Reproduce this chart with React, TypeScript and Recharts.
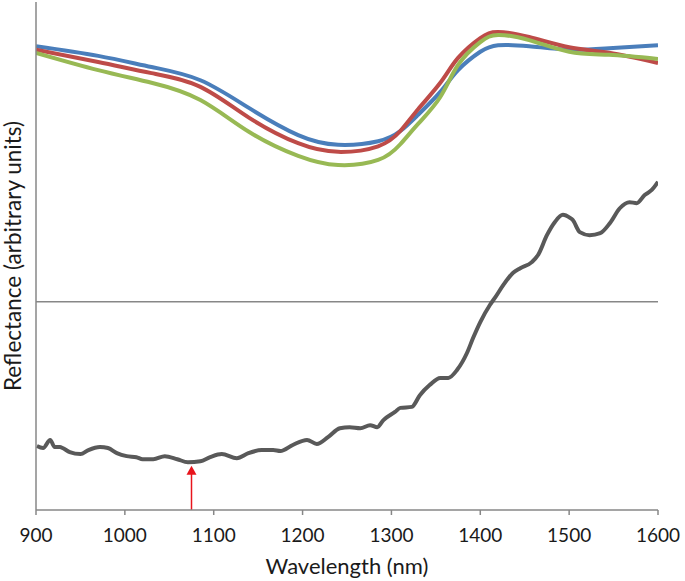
import { LineChart, Line, XAxis, YAxis, ReferenceLine, ReferenceDot } from 'recharts'

// smooth reference spectra (arbitrary units)
const smoothWavelengths = [900, 970, 1030, 1085, 1140, 1195, 1240, 1285, 1310, 1330, 1355, 1375, 1400, 1420, 1455, 1500, 1545, 1600]
const blueValues = [91.3, 89.4, 87.2, 84.6, 79.1, 73.8, 71.9, 72.6, 74.6, 77.8, 82.3, 86.6, 90.2, 91.5, 91.3, 90.6, 90.9, 91.5]
const redValues = [90.6, 88.2, 86.0, 83.3, 77.2, 72.2, 70.5, 71.6, 74.6, 78.9, 84.1, 89.0, 92.9, 94.1, 93.1, 91.1, 90.0, 88.0]
const greenValues = [90.0, 86.6, 84.1, 80.7, 74.4, 69.7, 67.9, 68.9, 72.0, 76.0, 81.3, 87.6, 92.1, 93.5, 92.5, 90.2, 89.6, 88.8]

// measured (noisy) spectrum
const grayWavelengths = [
  901, 908, 916, 921, 927, 930, 938, 950, 959, 972, 981, 991, 1002, 1013, 1020, 1032, 1045, 1059, 1071, 1085,
  1096, 1109, 1126, 1139, 1154, 1167, 1175, 1189, 1205, 1216, 1229, 1242, 1253, 1265, 1276, 1284, 1291, 1304,
  1310, 1323, 1332, 1343, 1355, 1364, 1374, 1385, 1392, 1400, 1411, 1417, 1426, 1437, 1445, 1458, 1465, 1475,
  1484, 1493, 1501, 1504, 1512, 1523, 1535, 1546, 1557, 1568, 1576, 1585, 1593, 1600,
]
const grayValues = [
  12.6, 12.2, 13.8, 12.4, 12.4, 12.2, 11.4, 11.0, 11.8, 12.4, 12.2, 11.2, 10.6, 10.4, 10.0, 10.0, 10.6, 10.0, 9.4, 9.6,
  10.4, 11.0, 10.2, 11.2, 11.8, 11.8, 11.6, 12.8, 13.8, 13.0, 14.4, 16.1, 16.3, 16.1, 16.7, 16.3, 17.7, 19.3,
  20.1, 20.3, 22.6, 24.6, 26.0, 26.0, 27.6, 30.9, 33.9, 37.0, 40.4, 41.9, 44.3, 46.7, 47.6, 48.8, 50.2, 54.1,
  56.7, 58.1, 57.5, 57.1, 54.7, 54.1, 54.5, 56.5, 59.4, 60.6, 60.4, 62.0, 63.0, 64.6,
]

const xTicks = [900, 1000, 1100, 1200, 1300, 1400, 1500, 1600]
const baseline = 41
const arrowX = 1075
const arrowTip = 8.7

const toPoints = (ws: number[], vs: number[]) => ws.map((w, i) => ({ w, v: vs[i] }))

const blueData = toPoints(smoothWavelengths, blueValues)
const redData = toPoints(smoothWavelengths, redValues)
const greenData = toPoints(smoothWavelengths, greenValues)
const grayData = toPoints(grayWavelengths, grayValues)

const font = 'Lato, "Open Sans", sans-serif'

const ArrowHead = (props: any) => {
  const { cx, cy } = props
  return <polygon points={`${cx},${cy} ${cx - 5},${cy + 9} ${cx + 5},${cy + 9}`} fill="#e8141c" />
}

export default function App() {
  return (
    <div style={{ position: 'absolute', left: 0, top: 0, background: '#fff' }}>
      <LineChart width={685} height={581} margin={{ top: 2, right: 27, bottom: 11, left: 0 }}>
        <XAxis
          type="number"
          dataKey="w"
          domain={[900, 1600]}
          ticks={xTicks}
          interval={0}
          allowDataOverflow
          height={60}
          stroke="#878787"
          strokeWidth={1.5}
          tickSize={5}
          tickMargin={14}
          tick={{ fill: '#1a1a1a', fontSize: 19, fontFamily: font }}
          label={{ value: 'Wavelength (nm)', position: 'bottom', offset: -12, fill: '#1a1a1a', fontSize: 22, fontFamily: font }}
        />
        <YAxis
          type="number"
          domain={[0, 100]}
          width={36}
          tick={false}
          tickLine={false}
          stroke="#878787"
          strokeWidth={1.5}
          label={{
            value: 'Reflectance  (arbitrary units)',
            angle: -90,
            position: 'insideLeft',
            offset: 13,
            fill: '#1a1a1a',
            fontSize: 22.5,
            fontFamily: font,
            style: { textAnchor: 'middle' },
          }}
        />
        <ReferenceLine y={baseline} stroke="#878787" strokeWidth={1.5} />
        <Line data={blueData} dataKey="v" type="natural" stroke="#4a7ebb" strokeWidth={4} dot={false} activeDot={false} isAnimationActive={false} />
        <Line data={redData} dataKey="v" type="natural" stroke="#be4b48" strokeWidth={4} dot={false} activeDot={false} isAnimationActive={false} />
        <Line data={greenData} dataKey="v" type="natural" stroke="#98b954" strokeWidth={4} dot={false} activeDot={false} isAnimationActive={false} />
        <Line data={grayData} dataKey="v" type="monotone" stroke="#595959" strokeWidth={4} strokeLinejoin="round" dot={false} activeDot={false} isAnimationActive={false} />
        <ReferenceLine segment={[{ x: arrowX, y: 0 }, { x: arrowX, y: arrowTip - 1.6 }]} stroke="#e8141c" strokeWidth={1.5} />
        <ReferenceDot x={arrowX} y={arrowTip} r={5} shape={ArrowHead} />
      </LineChart>
    </div>
  )
}
